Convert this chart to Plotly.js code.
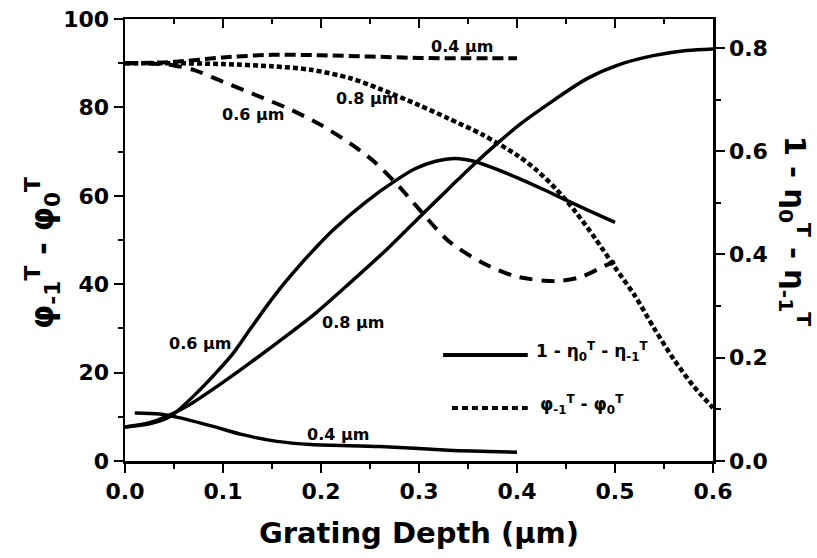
<!DOCTYPE html>
<html>
<head>
<meta charset="utf-8">
<script src="https://cdn.plot.ly/plotly-3.0.1.min.js"></script>
<style>html,body{margin:0;padding:0;background:#fff;}#chart{width:817px;height:558px;}</style>
</head>
<body>
<div id="chart"></div>
<script>
// Phase difference (left axis, degrees)
const xPhase04 = [0, 0.05, 0.1, 0.15, 0.2, 0.25, 0.3, 0.35, 0.4];
const phase04  = [90, 90.3, 91.3, 91.9, 91.8, 91.5, 91.2, 91.1, 91.1];

const xPhase06 = [0, 0.03, 0.05, 0.07, 0.1, 0.14, 0.17, 0.2, 0.23, 0.255, 0.28, 0.3, 0.33, 0.365, 0.4, 0.44, 0.465, 0.49, 0.5];
const phase06  = [90, 89.9, 89.5, 88.5, 85.8, 82.2, 79.4, 76, 71.8, 67.6, 62, 57, 49.8, 44.8, 41.7, 40.7, 41.6, 44.2, 45.1];

const xPhase08 = [0, 0.05, 0.1, 0.15, 0.19, 0.23, 0.26, 0.3, 0.33, 0.365, 0.4, 0.42, 0.44, 0.46, 0.48, 0.5, 0.52, 0.54, 0.56, 0.58, 0.6];
const phase08  = [90, 90, 89.8, 89.3, 88.5, 86.6, 84.2, 80.5, 77.5, 73.8, 69.2, 65.8, 61.5, 56.3, 50.3, 43.8, 37.5, 30, 23, 17, 12];

// Loss 1 - eta0 - eta-1 (right axis)
const xLoss04 = [0.01, 0.035, 0.055, 0.09, 0.12, 0.155, 0.19, 0.26, 0.33, 0.4];
const loss04  = [0.093, 0.091, 0.084, 0.067, 0.051, 0.038, 0.032, 0.028, 0.021, 0.017];

const xLoss06 = [0, 0.025, 0.046, 0.0765, 0.0935, 0.1105, 0.1276, 0.1446, 0.1616, 0.1786, 0.1956, 0.2126, 0.2466, 0.276, 0.296, 0.316, 0.337, 0.355, 0.4, 0.437, 0.471, 0.5];
const loss06  = [0.066, 0.072, 0.086, 0.138, 0.172, 0.209, 0.255, 0.3, 0.342, 0.38, 0.415, 0.448, 0.503, 0.543, 0.566, 0.58, 0.586, 0.581, 0.549, 0.517, 0.487, 0.462];

const xLoss08 = [0, 0.025, 0.0595, 0.0936, 0.1276, 0.1616, 0.1956, 0.2296, 0.27, 0.303, 0.33, 0.354, 0.381, 0.403, 0.437, 0.471, 0.505, 0.539, 0.573, 0.6];
const loss08  = [0.066, 0.074, 0.102, 0.144, 0.19, 0.238, 0.288, 0.345, 0.415, 0.477, 0.527, 0.571, 0.617, 0.652, 0.698, 0.74, 0.768, 0.785, 0.795, 0.798];

const xTickVals = [0, 0.1, 0.2, 0.3, 0.4, 0.5, 0.6];
const xTickText = ['0.0', '0.1', '0.2', '0.3', '0.4', '0.5', '0.6'];

const FONT = 'DejaVu Sans, Liberation Sans, Arial, sans-serif';
const black = '#000';

const traces = [
  {x: xPhase04, y: phase04, mode: 'lines', line: {color: black, width: 4, dash: '11px,5px', shape: 'spline', smoothing: 0.8}, yaxis: 'y', showlegend: false, hoverinfo: 'skip'},
  {x: xPhase06, y: phase06, mode: 'lines', line: {color: black, width: 4, dash: '13px,9px', shape: 'spline', smoothing: 0.8}, yaxis: 'y', showlegend: false, hoverinfo: 'skip'},
  {x: xPhase08, y: phase08, mode: 'lines', line: {color: black, width: 4.5, dash: '5px,3px', shape: 'spline', smoothing: 0.8}, yaxis: 'y', showlegend: false, hoverinfo: 'skip'},
  {x: xLoss04, y: loss04, mode: 'lines', line: {color: black, width: 3.5, shape: 'spline', smoothing: 0.8}, yaxis: 'y2', showlegend: false, hoverinfo: 'skip'},
  {x: xLoss06, y: loss06, mode: 'lines', line: {color: black, width: 3.5, shape: 'spline', smoothing: 0.8}, yaxis: 'y2', showlegend: false, hoverinfo: 'skip'},
  {x: xLoss08, y: loss08, mode: 'lines', line: {color: black, width: 3.5, shape: 'spline', smoothing: 0.8}, yaxis: 'y2', showlegend: false, hoverinfo: 'skip'},
  // anchor trace so the top (mirror) axis is drawn
  {x: [0.3], y: [50], mode: 'markers', marker: {opacity: 0}, xaxis: 'x2', yaxis: 'y', showlegend: false, hoverinfo: 'skip'}
];

const tickFont = {family: FONT, size: 22, color: black, weight: 'bold'};
const annFont = {family: FONT, size: 16, color: black, weight: 'bold'};

const layout = {
  width: 817, height: 558,
  margin: {l: 125, r: 104, t: 19, b: 97, pad: 0},
  paper_bgcolor: '#fff', plot_bgcolor: '#fff',
  font: {family: FONT, color: black, weight: 'bold'},
  showlegend: false,
  xaxis: {
    range: [0, 0.6], tickvals: xTickVals, ticktext: xTickText,
    ticks: 'outside', ticklen: 9, tickwidth: 2, tickcolor: black,
    minor: {dtick: 0.05, ticks: 'outside', ticklen: 5, tickwidth: 2, tickcolor: black},
    showline: true, linewidth: 2.5, linecolor: black, showgrid: false, zeroline: false,
    tickfont: tickFont,
    title: {text: 'Grating Depth (µm)', font: {family: FONT, size: 29, color: black, weight: 'bold'}, standoff: 20}
  },
  xaxis2: {
    overlaying: 'x', side: 'top', range: [0, 0.6], matches: 'x', anchor: 'y',
    tickvals: xTickVals, showticklabels: false,
    ticks: 'inside', ticklen: 9, tickwidth: 2, tickcolor: black,
    minor: {dtick: 0.05, ticks: 'inside', ticklen: 5, tickwidth: 2, tickcolor: black},
    showline: true, linewidth: 2.5, linecolor: black, showgrid: false, zeroline: false
  },
  yaxis: {
    range: [0, 100], dtick: 20,
    ticks: 'outside', ticklen: 9, tickwidth: 2, tickcolor: black,
    minor: {dtick: 10, ticks: 'outside', ticklen: 5, tickwidth: 2, tickcolor: black},
    showline: true, linewidth: 2.5, linecolor: black, showgrid: false, zeroline: false,
    tickfont: tickFont
  },
  yaxis2: {
    overlaying: 'y', side: 'right', range: [0, 0.856], dtick: 0.2, tickformat: '.1f',
    ticks: 'outside', ticklen: 9, tickwidth: 2, tickcolor: black,
    minor: {dtick: 0.1, ticks: 'outside', ticklen: 5, tickwidth: 2, tickcolor: black},
    showline: true, linewidth: 2.5, linecolor: black, showgrid: false, zeroline: false,
    tickfont: tickFont
  },
  shapes: [
    {type: 'line', xref: 'paper', yref: 'paper', x0: 0.541, x1: 0.685, y0: 0.240, y1: 0.240, line: {color: black, width: 4}},
    {type: 'line', xref: 'paper', yref: 'paper', x0: 0.556, x1: 0.685, y0: 0.120, y1: 0.120, line: {color: black, width: 4, dash: '6px,4px'}}
  ],
  annotations: [
    {xref: 'paper', yref: 'paper', x: 0.695, y: 0.247, xanchor: 'left', yanchor: 'middle', showarrow: false,
     text: '1 - η<sub>0</sub><sup>T</sup> - η<sub>-1</sub><sup>T</sup>', font: {family: FONT, size: 17, color: black, weight: 'bold'}},
    {xref: 'paper', yref: 'paper', x: 0.703, y: 0.127, xanchor: 'left', yanchor: 'middle', showarrow: false,
     text: 'φ<sub>-1</sub><sup>T</sup> - φ<sub>0</sub><sup>T</sup>', font: {family: FONT, size: 17, color: black, weight: 'bold'}},
    {xref: 'paper', yref: 'paper', x: -0.14, y: 0.47, xanchor: 'center', yanchor: 'middle', showarrow: false, textangle: -90,
     text: 'φ<sub>-1</sub><sup>T</sup> - φ<sub>0</sub><sup>T</sup>', font: {family: FONT, size: 31, color: black, weight: 'bold'}},
    {xref: 'paper', yref: 'paper', x: 1.14, y: 0.52, xanchor: 'center', yanchor: 'middle', showarrow: false, textangle: 90,
     text: '1 - η<sub>0</sub><sup>T</sup> - η<sub>-1</sub><sup>T</sup>', font: {family: FONT, size: 29, color: black, weight: 'bold'}},
    {x: 0.344, y: 93.7, xref: 'x', yref: 'y', showarrow: false, text: '0.4 µm', font: annFont},
    {x: 0.247, y: 82.1, xref: 'x', yref: 'y', showarrow: false, text: '0.8 µm', font: annFont},
    {x: 0.131, y: 78.3, xref: 'x', yref: 'y', showarrow: false, text: '0.6 µm', font: annFont},
    {x: 0.0765, y: 26.6, xref: 'x', yref: 'y', showarrow: false, text: '0.6 µm', font: annFont},
    {x: 0.233, y: 31.4, xref: 'x', yref: 'y', showarrow: false, text: '0.8 µm', font: annFont},
    {x: 0.217, y: 6.1, xref: 'x', yref: 'y', showarrow: false, text: '0.4 µm', font: annFont}
  ]
};

Plotly.newPlot('chart', traces, layout, {displayModeBar: false, staticPlot: true});
</script>
</body>
</html>
